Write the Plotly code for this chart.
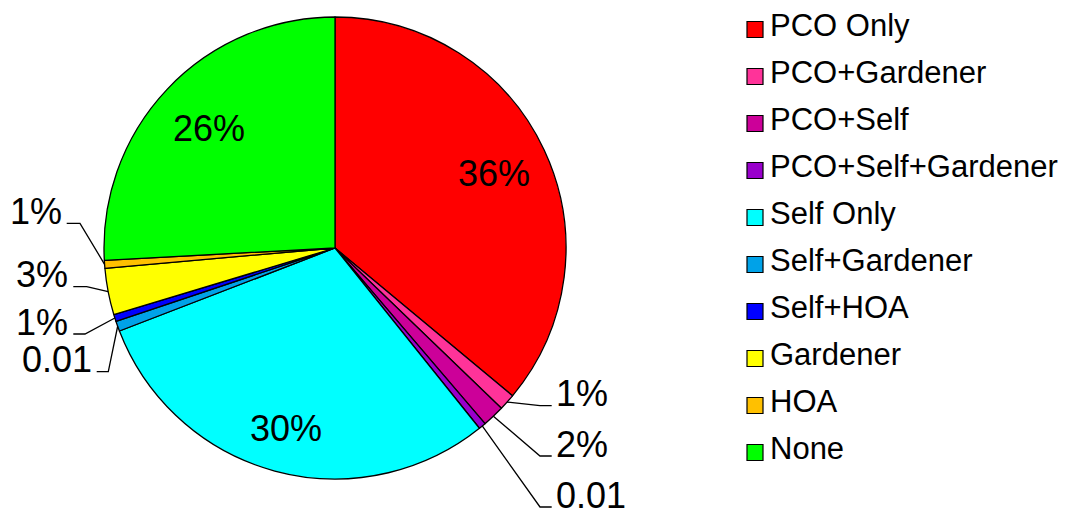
import math
import plotly.graph_objects as go

# ---------------- data ----------------
categories = ["PCO Only", "PCO+Gardener", "PCO+Self", "PCO+Self+Gardener", "Self Only",
              "Self+Gardener", "Self+HOA", "Gardener", "HOA", "None"]
values = [36.05, 1.15, 1.55, 0.5, 29.9, 0.7, 0.5, 3.25, 0.55, 25.85]
label_texts = ["36%", "1%", "2%", "0.01", "30%", "0.01", "1%", "3%", "1%", "26%"]

# ---------------- styling / layout ----------------
colors = ["#FF0000", "#FF3399", "#CC0099", "#9900CC", "#00FFFF",
          "#00A2E8", "#0000FF", "#FFFF00", "#FFC000", "#00FF00"]
PAGE_W, PAGE_H = 1076, 516
OFF = 8                      # default body margin of the html page
FW, FH = PAGE_W - OFF, PAGE_H - OFF
CX, CY, R = 335, 248, 231    # page pixel coordinates
FONT = "Liberation Sans, Arial, sans-serif"

# inside labels: radius fraction along the slice bisector
inside_r = {0: 0.76, 4: 0.81, 9: 0.75}
# outside labels: (elbow x, elbow y, end x, side)
outside = {
    1: (540, 405.7, 551.7, "right"),
    2: (540, 456.0, 551.7, "right"),
    3: (540, 507.0, 551.7, "right"),
    5: (108.3, 371.7, 96.7, "left"),
    6: (85.0, 334.0, 73.3, "left"),
    7: (86.7, 286.7, 73.3, "left"),
    8: (80.0, 223.3, 66.7, "left"),
}
LEG_X0, LEG_Y0, LEG_DY, LEG_SQ = 747, 29.5, 47.0, 16


def px(x):
    return (x - OFF) / FW


def py(y):
    return 1 - (y - OFF) / FH


fig = go.Figure()
fig.add_trace(go.Pie(
    labels=categories, values=values, sort=False, direction="clockwise", rotation=0,
    marker=dict(colors=colors, line=dict(color="black", width=1.3)),
    textinfo="none", showlegend=False, hoverinfo="label+percent",
    domain=dict(x=[px(CX - R), px(CX + R)], y=[py(CY + R), py(CY - R)]),
))

annotations = []
shapes = []
total = sum(values)
cum = 0.0
for i, v in enumerate(values):
    mid = (cum + v / 2) / total * 2 * math.pi
    cum += v
    sx, sy = math.sin(mid), -math.cos(mid)
    if i in inside_r:
        rr = inside_r[i] * R
        annotations.append(dict(
            x=px(CX + rr * sx), y=py(CY + rr * sy), xref="paper", yref="paper",
            text=label_texts[i], showarrow=False, xanchor="center", yanchor="middle",
            font=dict(family=FONT, size=36, color="black")))
    elif i in outside:
        ex, ey, endx, side = outside[i]
        x0, y0 = CX + R * sx, CY + R * sy
        path = f"M {px(x0)},{py(y0)} L {px(ex)},{py(ey)} L {px(endx)},{py(ey)}"
        shapes.append(dict(type="path", path=path, xref="paper", yref="paper",
                           line=dict(color="black", width=1.3)))
        if side == "right":
            tx, anchor = endx + 2, "left"
        else:
            tx, anchor = endx - 3, "right"
        annotations.append(dict(
            x=px(tx), y=py(ey - 12), xref="paper", yref="paper",
            text=label_texts[i], showarrow=False, xanchor=anchor, yanchor="middle",
            font=dict(family=FONT, size=36, color="black")))

# legend (drawn manually to match the original spacing)
for i, name in enumerate(categories):
    cy = LEG_Y0 + i * LEG_DY
    shapes.append(dict(type="rect", xref="paper", yref="paper",
                       x0=px(LEG_X0), x1=px(LEG_X0 + LEG_SQ),
                       y0=py(cy - LEG_SQ / 2), y1=py(cy + LEG_SQ / 2),
                       fillcolor=colors[i], line=dict(color="black", width=1.2)))
    annotations.append(dict(
        x=px(LEG_X0 + LEG_SQ + 5), y=py(cy - 4), xref="paper", yref="paper",
        text=name, showarrow=False, xanchor="left", yanchor="middle",
        font=dict(family=FONT, size=31, color="black")))

fig.update_layout(
    width=FW, height=FH, margin=dict(l=0, r=0, t=0, b=0),
    paper_bgcolor="white", plot_bgcolor="white",
    annotations=annotations, shapes=shapes,
)
fig.write_html("out.html")
